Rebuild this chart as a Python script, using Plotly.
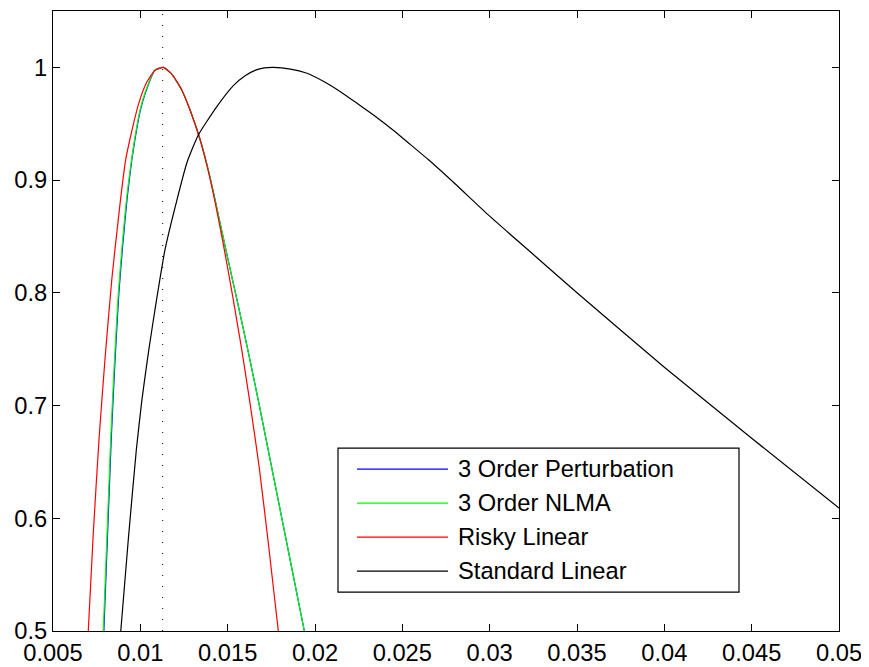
import plotly.graph_objects as go

# ---------------- data ----------------
series_names = ["3 Order Perturbation", "3 Order NLMA", "Risky Linear", "Standard Linear"]
series_colors = ["#0000FF", "#00FF00", "#FF0000", "#000000"]

pert_x = [0.00791, 0.00833, 0.00855, 0.00877, 0.00898, 0.00925, 0.00951, 0.00971, 0.01000, 0.01028,
          0.01083, 0.01131, 0.01180, 0.01237, 0.01290, 0.01342, 0.01389, 0.01430, 0.01490, 0.01560,
          0.01620, 0.01680, 0.01939]
pert_y = [0.500, 0.669, 0.740, 0.7996, 0.8404, 0.8848, 0.9176, 0.9379, 0.9619, 0.977,
          0.9973, 1.000, 0.994, 0.980, 0.960, 0.936, 0.909, 0.881, 0.838, 0.789,
          0.746, 0.701, 0.500]

nlma_x = [0.00788, 0.00830, 0.00852, 0.00874, 0.00895, 0.00922, 0.00949, 0.00969, 0.00998, 0.01026,
          0.01082, 0.01131, 0.01180, 0.01237, 0.01290, 0.01342, 0.01389, 0.01430, 0.01490, 0.01560,
          0.01620, 0.01680, 0.01939]
nlma_y = [0.500, 0.669, 0.740, 0.7996, 0.8404, 0.8848, 0.9176, 0.9379, 0.9619, 0.977,
          0.9973, 1.000, 0.994, 0.980, 0.960, 0.936, 0.909, 0.881, 0.838, 0.789,
          0.746, 0.701, 0.500]

risky_x = [0.00702, 0.00730, 0.00763, 0.00797, 0.00838, 0.00886, 0.00916, 0.00943, 0.00991, 0.01036,
           0.01084, 0.01131, 0.01180, 0.01237, 0.01290, 0.01342, 0.01389, 0.01430, 0.01480, 0.01530,
           0.01580, 0.01630, 0.01680, 0.01735, 0.01790]
risky_y = [0.500, 0.585, 0.669, 0.740, 0.814, 0.882, 0.918, 0.938, 0.968, 0.9865,
           0.9975, 1.000, 0.994, 0.980, 0.960, 0.936, 0.908, 0.879, 0.839, 0.796,
           0.750, 0.700, 0.646, 0.575, 0.500]

std_x = [0.00888, 0.00931, 0.00977, 0.01009, 0.01048, 0.01092, 0.01141, 0.01209, 0.01268, 0.01332,
         0.01437, 0.01534, 0.01600, 0.01660, 0.01710, 0.01761, 0.01860, 0.01950, 0.02050, 0.02150,
         0.02250, 0.02350, 0.02450, 0.02550, 0.02650, 0.02800, 0.03000, 0.03250, 0.03500, 0.04000,
         0.04500, 0.05000]
std_y = [0.500, 0.581, 0.6605, 0.705, 0.749, 0.793, 0.838, 0.882, 0.916, 0.940,
         0.965, 0.984, 0.9925, 0.9975, 0.9995, 1.000, 0.9985, 0.995, 0.9875, 0.978,
         0.967, 0.956, 0.944, 0.931, 0.918, 0.897, 0.868, 0.834, 0.800, 0.734,
         0.671, 0.609]

peak_x = 0.01128  # dotted reference line

x_tickvals = [0.005, 0.01, 0.015, 0.02, 0.025, 0.03, 0.035, 0.04, 0.045, 0.05]
x_ticktext = ["0.005", "0.01", "0.015", "0.02", "0.025", "0.03", "0.035", "0.04", "0.045", "0.05"]
y_tickvals = [0.5, 0.6, 0.7, 0.8, 0.9, 1.0]
y_ticktext = ["0.5", "0.6", "0.7", "0.8", "0.9", "1"]

x_range = [0.005, 0.05]
y_range = [0.5, 1.05]

# ---------------- layout geometry ----------------
OFF = 8  # page body margin
W, H = 861, 659
ML, MR, MT, MB = 45, 30, 2.5, 36
PW = W - ML - MR
PH = H - MT - MB

def px_x(p):
    return (p - OFF - ML) / PW

def px_y(p):
    return (OFF + H - MB - p) / PH

FONT = "Liberation Sans, Arial, Helvetica, sans-serif"
FS = 23.7

fig = go.Figure()
all_x = [pert_x, nlma_x, risky_x, std_x]
all_y = [pert_y, nlma_y, risky_y, std_y]
for name, col, xs, ys in zip(series_names, series_colors, all_x, all_y):
    fig.add_trace(go.Scatter(x=xs, y=ys, mode="lines", name=name,
                             line=dict(color=col, width=1.2, shape="spline", smoothing=0.5),
                             showlegend=False))

fig.add_trace(go.Scatter(x=[peak_x, peak_x], y=y_range, mode="lines",
                         line=dict(color="black", width=1, dash="1px,10px"),
                         showlegend=False, hoverinfo="skip"))

axis_common = dict(showgrid=False, zeroline=False, showline=True, linecolor="black",
                   linewidth=1.2, mirror="ticks", ticks="inside", ticklen=7,
                   tickwidth=1, tickcolor="black", automargin=False,
                   tickfont=dict(family=FONT, size=FS, color="black"))

fig.update_xaxes(range=x_range, tickvals=x_tickvals, ticktext=x_ticktext, **axis_common)
fig.update_yaxes(range=y_range, tickvals=y_tickvals, ticktext=y_ticktext, **axis_common)

# manual legend (MATLAB style)
shapes = [dict(type="rect", xref="paper", yref="paper",
               x0=px_x(338), x1=px_x(739), y0=px_y(592), y1=px_y(448),
               line=dict(color="black", width=1.2), fillcolor="white", layer="above")]
annotations = []
rows = [469, 503, 537, 571]
for name, col, ry in zip(series_names, series_colors, rows):
    shapes.append(dict(type="line", xref="paper", yref="paper",
                       x0=px_x(357), x1=px_x(448), y0=px_y(ry), y1=px_y(ry),
                       line=dict(color=col, width=1.2), layer="above"))
    annotations.append(dict(xref="paper", yref="paper", x=px_x(456), y=px_y(ry),
                            text=name, showarrow=False, xanchor="left", yanchor="middle",
                            font=dict(family=FONT, size=FS, color="black")))

fig.update_layout(width=W, height=H, margin=dict(l=ML, r=MR, t=MT, b=MB, pad=0),
                  paper_bgcolor="white", plot_bgcolor="white",
                  shapes=shapes, annotations=annotations, showlegend=False)

fig.write_html("out.html")
